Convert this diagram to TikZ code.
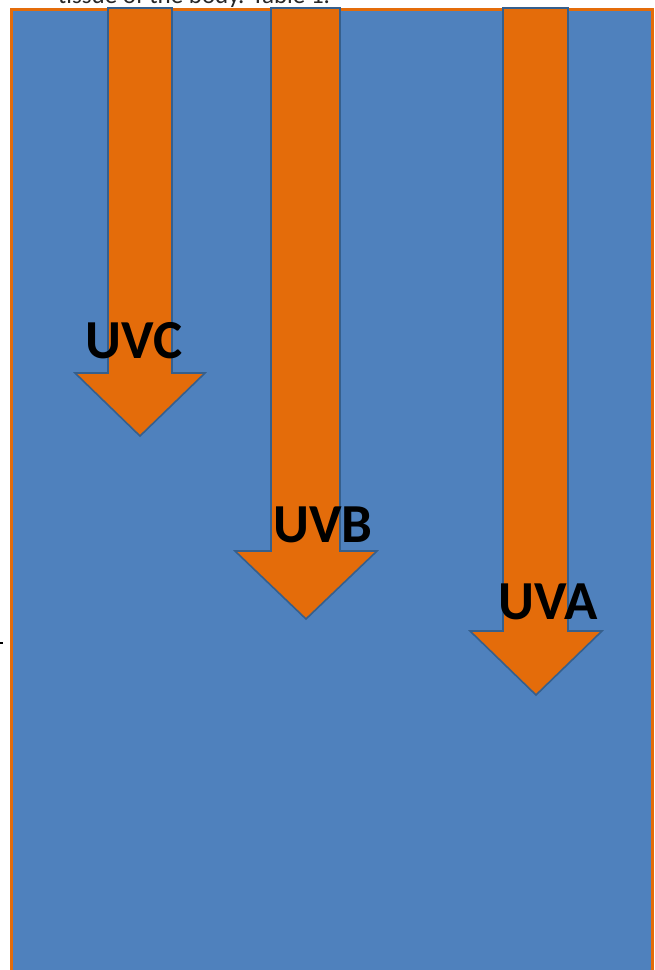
\documentclass[tikz,border=0pt]{standalone}
\usepackage{fontspec}
\setmainfont{Carlito}
\definecolor{bgblue}{HTML}{4F81BD}
\definecolor{uvorange}{HTML}{E46C0A}
\definecolor{edgeblue}{HTML}{365F8C}
\tikzset{
  uvarrow/.style={fill=uvorange, draw=edgeblue, line width=1.6pt, line join=miter},
  uvlabel/.style={font=\bfseries\fontsize{55}{55}\selectfont, text=black, inner sep=0pt, anchor=base}
}
\begin{document}
\begin{tikzpicture}[x={(1pt,0)}, y={(0,-1pt)}]
\useasboundingbox (0,0) rectangle (654,970);
\clip (0,0) rectangle (654,970);
\fill[white] (0,0) rectangle (654,970);
\node[font=\fontsize{25}{25}\selectfont, text=black!85, anchor=base west, inner sep=0pt] (caption) at (58,3) {tissue of the body. Table 1.};
\draw[black, line width=1.5pt] (0,643) -- (3,643);
\draw[fill=bgblue, draw=uvorange, line width=3pt] (11.5,9) rectangle (652.5,990);
% UVC
\draw[uvarrow] (108,8) -- (172,8) -- (172,373) -- (205,373) -- (140,436) -- (75,373) -- (108,373) -- cycle;
% UVB
\draw[uvarrow] (271,8) -- (340,8) -- (340,551) -- (377,551) -- (306,619) -- (235,551) -- (271,551) -- cycle;
% UVA
\draw[uvarrow] (503,8) -- (568,8) -- (568,631) -- (602,631) -- (536,695) -- (470,631) -- (503,631) -- cycle;
\node[uvlabel] (uvc) at (134,358) {UVC};
\node[uvlabel] (uvb) at (323,542) {UVB};
\node[uvlabel] (uva) at (548,619) {UVA};
\end{tikzpicture}
\end{document}
